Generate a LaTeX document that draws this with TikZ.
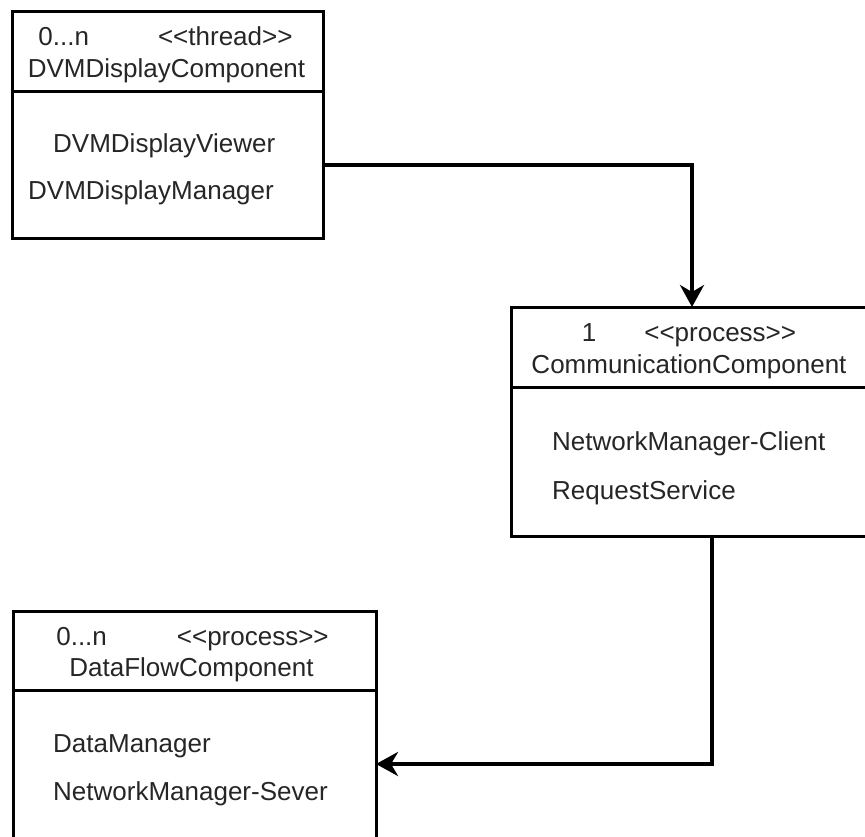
\documentclass[tikz,border=0pt]{standalone}
\usepackage{fontspec}
\setmainfont{Liberation Sans}[Ligatures=TeXOff]
\usetikzlibrary{positioning}
\usetikzlibrary{arrows.meta}

\tikzset{
  comphead/.style={rectangle, draw, line width=3pt, inner sep=0pt, outer sep=0pt, minimum height=80pt},
  compbody/.style={rectangle, draw, line width=3pt, inner sep=0pt, outer sep=0pt},
  lbl/.style={inner sep=0pt, anchor=base, text=black!85, font=\fontsize{26}{32}\selectfont},
  item/.style={lbl, anchor=base west},
  connector/.style={draw, line width=4pt, -{Stealth[length=22pt,width=24pt,inset=7pt]}}
}

\begin{document}
\begin{tikzpicture}[x=1pt,y=-1pt]
\clip (0,0) rectangle (865,836);
\fill[white] (0,0) rectangle (865,836);

% display component
\node [comphead, minimum width=311pt] at (167.5,51) (dvmhead) {};
\node [compbody, minimum width=311pt, minimum height=147pt, below=0pt of dvmhead] (dvm) {};
\node [lbl] at ([xshift=-2pt,yshift=-34pt]dvmhead.north) (dvmst) {0...n\hspace{69pt}<<thread>>};
\node [lbl] at ([xshift=-1pt,yshift=-66pt]dvmhead.north) (dvmname) {DVMDisplayComponent};
\node [item] at ([xshift=41pt,yshift=-61pt]dvm.north west) (viewer) {DVMDisplayViewer};
\node [item] at ([xshift=16pt,yshift=-108pt]dvm.north west) (dmanager) {DVMDisplayManager};

% communication component
\node [comphead, minimum width=362pt] at (692,347) (commhead) {};
\node [compbody, minimum width=362pt, minimum height=149pt, below=0pt of commhead] (comm) {};
\node [lbl] at ([xshift=-3pt,yshift=-34pt]commhead.north) (commst) {1\hspace{48pt}<<process>>};
\node [lbl] at ([xshift=-3pt,yshift=-66pt]commhead.north) (commname) {CommunicationComponent};
\node [item] at ([xshift=41pt,yshift=-63pt]comm.north west) (client) {NetworkManager-Client};
\node [item] at ([xshift=41pt,yshift=-112pt]comm.north west) (request) {RequestService};

% data flow component
\node [comphead, minimum width=363pt, minimum height=79pt] at (194.5,650.5) (flowhead) {};
\node [compbody, minimum width=363pt, minimum height=148pt, below=0pt of flowhead] (flow) {};
\node [lbl] at ([xshift=-2pt,yshift=-34pt]flowhead.north) (flowst) {0...n\hspace{70pt}<<process>>};
\node [lbl] at ([xshift=-3pt,yshift=-65pt]flowhead.north) (flowname) {DataFlowComponent};
\node [item] at ([xshift=40pt,yshift=-62pt]flow.north west) (datamgr) {DataManager};
\node [item] at ([xshift=40pt,yshift=-110pt]flow.north west) (server) {NetworkManager-Sever};

\path [connector] (dvm.east) -| (commhead.north);
\path [connector] ([xshift=20pt]comm.south) |- (flow.east);

\end{tikzpicture}
\end{document}
